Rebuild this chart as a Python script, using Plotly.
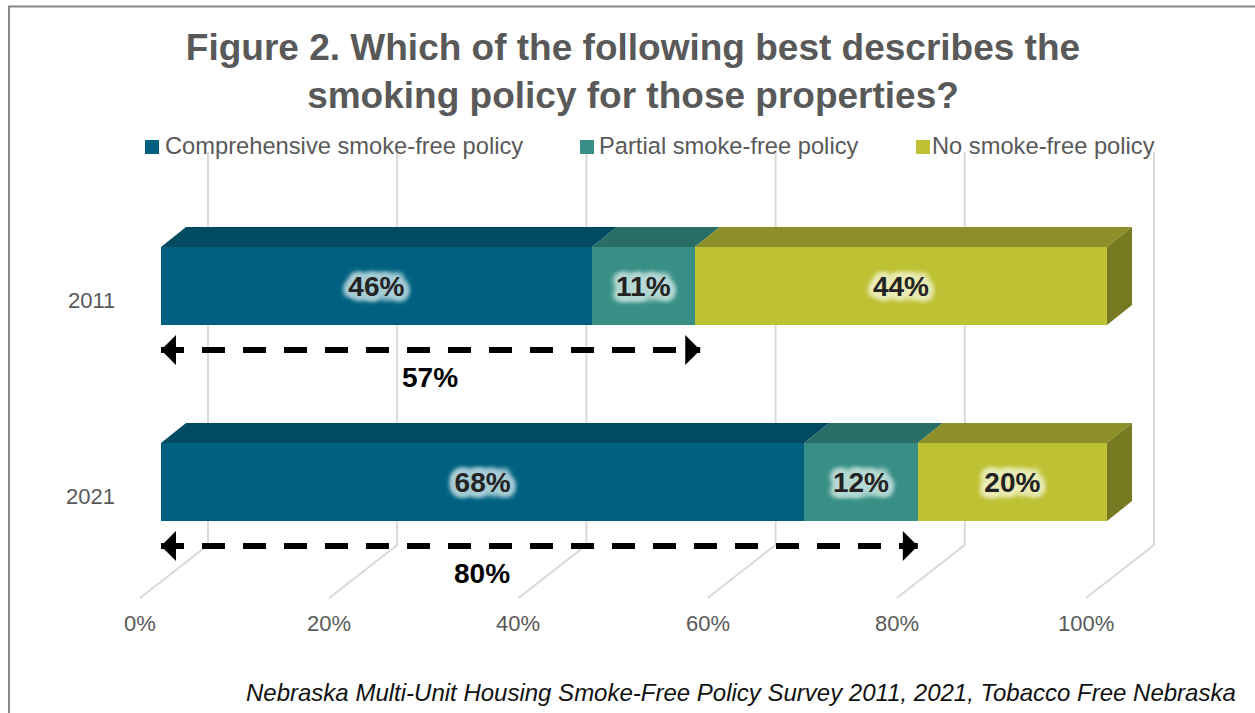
import plotly.graph_objects as go

# ---------------- data ----------------
years = ["2011", "2021"]
series_names = [
    "Comprehensive smoke-free policy",
    "Partial smoke-free policy",
    "No smoke-free policy",
]
comprehensive = [46, 68]
partial = [11, 12]
no_policy = [44, 20]
smoke_free_total = [57, 80]          # comprehensive + partial, shown under the arrows
tick_values = [0, 20, 40, 60, 80, 100]

title_text = ("Figure 2. Which of the following best describes the<br>"
              "smoking policy for those properties?")
source_text = ("Nebraska Multi-Unit Housing Smoke-Free Policy Survey 2011, 2021, "
               "Tobacco Free Nebraska")

# ---------------- style ----------------
W, H = 1255, 713
FONT = "Liberation Sans, Arial, sans-serif"
GREY = "#595959"
GRID = "#D9D9D9"
front_colors = ["#00607F", "#378F85", "#BDC133"]
top_colors = ["#004A62", "#286E66", "#8D9028"]
side_color = "#777A20"
glow_colors = ["#A9CDD6", "#B6D9D4", "#E9EBB4"]

# frame geometry (pixels)
X0_PX, X100_PX = 161, 1107          # bar front face at 0 % / 100 %
ROW_GAP_PX = 196                    # distance between the two bars
BASE_ROW_PX = 482                   # centre of the lower bar
BAR_PX = 78                         # bar thickness
DEPTH_PX = (25, 20)                 # 3-D extrusion of the bars (right, up)
WALL_PX = 47                        # back wall offset from bar front
FLOOR_PX = -21                      # floor front edge offset from bar front
GRID_TOP_PX, WALL_FLOOR_PX, FLOOR_FRONT_PX = 152, 545, 598
ARROW_DROP_PX = 64                  # dashed arrow below bar centre
SUM_LABEL_DROP_PX = 91
SUM_LABEL_X_PX = [430, 482]
TICK_LABEL_Y_PX = 623

PPU_X = (X100_PX - X0_PX) / 100.0   # pixels per percent


def dx(px):
    return px / PPU_X


def dy(px):
    return px / ROW_GAP_PX


def y_of_px(py):
    return (BASE_ROW_PX - py) / ROW_GAP_PX


def glow(c):
    # soft halo: offset copies give it some spread, blurred copies soften the edge
    offs = [(-5, 0), (5, 0), (0, -5), (0, 5), (-4, -4), (4, -4), (-4, 4), (4, 4),
            (-2, 0), (2, 0), (0, -2), (0, 2)]
    layers = [f"{ox}px {oy}px 4px {c}" for ox, oy in offs]
    layers += [f"0 0 {b}px {c}" for b in (3, 6, 9, 12)]
    return ", ".join(layers)


x_range = [-X0_PX / PPU_X, (W - X0_PX) / PPU_X]
y_range = [y_of_px(H), y_of_px(0)]

# row positions: upper bar = 2011, lower bar = 2021
row_pos = {"2011": 1, "2021": 0}
rows = [row_pos[y] for y in years]
half = dy(BAR_PX) / 2
ddx, ddy = dx(DEPTH_PX[0]), dy(DEPTH_PX[1])

series = [comprehensive, partial, no_policy]
totals = [sum(v) for v in zip(*series)]
shares = [[v / t * 100 for v, t in zip(s, totals)] for s in series]

fig = go.Figure()

# front faces of the stacked bars
for name, vals, col, gc in zip(series_names, series, front_colors, glow_colors):
    fig.add_trace(go.Bar(
        name=name, x=vals, y=rows, orientation="h", width=dy(BAR_PX),
        marker=dict(color=col, line=dict(width=0)),
        text=[f"{v}%" for v in vals], textposition="inside",
        insidetextanchor="middle", constraintext="none",
        textfont=dict(family=FONT, size=28, color="#232323", weight="bold",
                      shadow=glow(gc)),
        showlegend=False, hoverinfo="skip",
    ))

# top faces (and the right-hand side face of the last segment)
for i, col in enumerate(top_colors):
    xs, ys = [], []
    for r, row in enumerate(rows):
        x0 = sum(shares[k][r] for k in range(i))
        x1 = x0 + shares[i][r]
        yt = row + half
        xs += [x0, x1, x1 + ddx, x0 + ddx, x0, None]
        ys += [yt, yt, yt + ddy, yt + ddy, yt, None]
    fig.add_trace(go.Scatter(x=xs, y=ys, mode="lines", fill="toself",
                             fillcolor=col, line=dict(width=0, color=col),
                             showlegend=False, hoverinfo="skip"))

xs, ys = [], []
for r, row in enumerate(rows):
    x1 = sum(shares[k][r] for k in range(len(series)))
    xs += [x1, x1, x1 + ddx, x1 + ddx, x1, None]
    ys += [row - half, row + half, row + half + ddy, row - half + ddy, row - half, None]
fig.add_trace(go.Scatter(x=xs, y=ys, mode="lines", fill="toself",
                         fillcolor=side_color, line=dict(width=0, color=side_color),
                         showlegend=False, hoverinfo="skip"))

# dashed double arrows spanning the smoke-free share
for row, total in zip(rows, smoke_free_total):
    ya = row - dy(ARROW_DROP_PX)
    fig.add_trace(go.Scatter(x=[0, total], y=[ya, ya], mode="lines",
                             line=dict(color="black", width=6, dash="23px,18px"),
                             showlegend=False, hoverinfo="skip"))
    for tip, tail in ((0, 15), (total, -15)):
        fig.add_annotation(x=tip, y=ya, xref="x", yref="y", ax=tail, ay=0,
                           text="", showarrow=True, arrowhead=1, arrowsize=1,
                           arrowwidth=5, arrowcolor="black", standoff=0)

for row, total, lx in zip(rows, smoke_free_total, SUM_LABEL_X_PX):
    fig.add_annotation(x=lx / W, xref="paper", y=row - dy(SUM_LABEL_DROP_PX), yref="y",
                       yanchor="middle", text=f"{total}%", showarrow=False,
                       font=dict(family=FONT, size=28, color="black", weight="bold"))

# 3-D gridlines: back wall verticals running into floor diagonals
shapes = []
for t in tick_values:
    xb = t + dx(WALL_PX)
    xf = t + dx(FLOOR_PX)
    shapes.append(dict(
        type="path", xref="x", yref="y", layer="below",
        path=(f"M {xb},{y_of_px(GRID_TOP_PX)} L {xb},{y_of_px(WALL_FLOOR_PX)} "
              f"L {xf},{y_of_px(FLOOR_FRONT_PX)}"),
        line=dict(color=GRID, width=2),
    ))
    fig.add_annotation(x=t, xref="x", xshift=FLOOR_PX, y=y_of_px(TICK_LABEL_Y_PX),
                       yref="y", yanchor="middle", text=f"{t}%", showarrow=False,
                       font=dict(family=FONT, size=22, color=GREY))

# category labels
for y, row in zip(years, rows):
    fig.add_annotation(x=117 / W, xref="paper", xanchor="right", y=row, yref="y",
                       yanchor="middle", yshift=-14, text=y, showarrow=False,
                       font=dict(family=FONT, size=22, color=GREY))

# legend
legend_px = [(145, 163), (580, 597), (916, 930)]
for name, col, (sq, tx) in zip(series_names, front_colors, legend_px):
    shapes.append(dict(type="rect", xref="paper", yref="paper",
                       x0=sq / W, x1=(sq + 14) / W,
                       y0=1 - 154 / H, y1=1 - 140 / H,
                       fillcolor=col, line=dict(width=0)))
    fig.add_annotation(x=tx / W, xref="paper", xanchor="left", y=1 - 146 / H,
                       yref="paper", yanchor="middle", text=name, showarrow=False,
                       font=dict(family=FONT, size=23.7, color=GREY))

# chart border
shapes.append(dict(type="rect", xref="paper", yref="paper",
                   x0=9 / W, x1=1.01, y0=-0.01, y1=1 - 6.5 / H,
                   line=dict(color="#868686", width=2)))

fig.add_annotation(x=1238 / W, xref="paper", xanchor="right", y=1 - 692 / H,
                   yref="paper", yanchor="middle", text=source_text, showarrow=False,
                   font=dict(family=FONT, size=24, color="#111111", style="italic"))

fig.update_layout(
    width=W, height=H,
    margin=dict(l=0, r=0, t=0, b=0),
    paper_bgcolor="white", plot_bgcolor="white",
    barmode="stack", barnorm="percent",
    title=dict(text=title_text, x=633 / W, xanchor="center",
               y=1 - 60 / H, yanchor="middle", yref="container",
               font=dict(family=FONT, size=37, color=GREY, weight="bold")),
    xaxis=dict(range=x_range, visible=False, fixedrange=True),
    yaxis=dict(range=y_range, visible=False, fixedrange=True),
    shapes=shapes,
    showlegend=False,
)

fig.write_html("out.html")
